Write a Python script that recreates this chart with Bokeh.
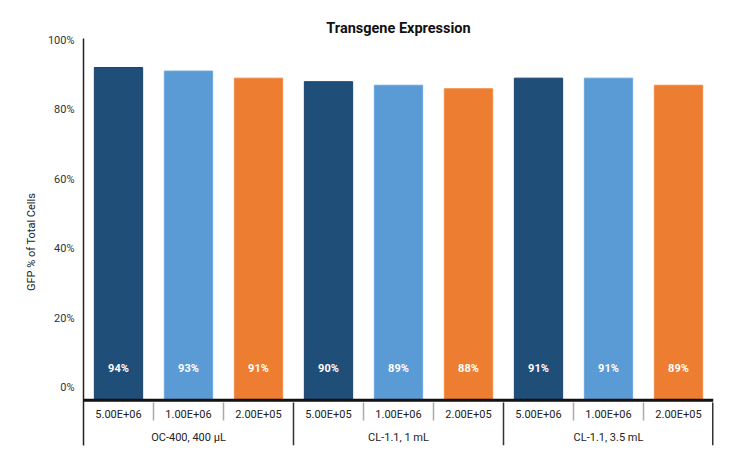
from bokeh.plotting import figure
from bokeh.models import Range1d, LinearAxis, FixedTicker, Span, ColumnDataSource
from bokeh.core.properties import value
from bokeh.embed import file_html
from bokeh.resources import INLINE

# ---- data ----
groups = ["OC-400, 400 µL", "CL-1.1, 1 mL", "CL-1.1, 3.5 mL"]
doses = ["5.00E+06", "1.00E+06", "2.00E+05",
         "5.00E+05", "1.00E+06", "2.00E+05",
         "5.00E+06", "1.00E+06", "2.00E+05"]
gfp = [94, 93, 91, 90, 89, 88, 91, 91, 89]
bar_colors = ["#1F4E79", "#5B9BD5", "#ED7D31"] * 3
line_colors = ["#1A446C", "#6AA6DC", "#F08A44"] * 3
y_ticks = [0, 20, 40, 60, 80, 100]
title_text = "Transgene Expression"
y_title = "GFP % of Total Cells"

# ---- layout ----
W, H = 730, 462
FRAME_TOP, FRAME_BOTTOM = 38, 445          # page px
Y_MIN, Y_MAX = -12.75, 102.2               # bar value range
LAB_MIN, LAB_MAX = -16.71, 100.58          # tick label range

def py(page_y):
    return Y_MAX - (page_y - FRAME_TOP) / (FRAME_BOTTOM - FRAME_TOP) * (Y_MAX - Y_MIN)

n = len(gfp)
FONT = "Roboto"

p = figure(width=W, height=H, output_backend="svg", toolbar_location=None,
           x_range=Range1d(0, n), y_range=Range1d(Y_MIN, Y_MAX),
           x_axis_location=None, y_axis_location=None,
           min_border_left=83, min_border_right=17, min_border_top=38, min_border_bottom=17,
           title=title_text)
p.extra_y_ranges = {"lab": Range1d(LAB_MIN, LAB_MAX)}
p.grid.visible = False
p.outline_line_color = None
p.background_fill_color = "white"
p.border_fill_color = "white"

p.title.align = "center"
p.title.text_font = FONT
p.title.text_font_size = "14.5px"
p.title.text_font_style = "bold"
p.title.text_color = "#111111"
p.title.standoff = 3

ax = LinearAxis(y_range_name="lab", ticker=FixedTicker(ticks=y_ticks),
                major_label_overrides={t: f"{t}%" for t in y_ticks})
ax.axis_line_color = "#222222"
ax.axis_line_width = 1.5
ax.major_tick_line_color = None
ax.minor_tick_line_color = None
ax.major_tick_out = 0
ax.major_tick_in = 0
ax.major_label_standoff = 9
ax.major_label_text_font = FONT
ax.major_label_text_font_size = "11px"
ax.major_label_text_color = "#333333"
ax.axis_label = y_title
ax.axis_label_text_font = FONT
ax.axis_label_text_font_size = "11px"
ax.axis_label_text_font_style = "normal"
ax.axis_label_text_color = "#222222"
ax.axis_label_standoff = 7
p.add_layout(ax, "left")

xs = [i + 0.5 for i in range(n)]
src = ColumnDataSource(dict(x=xs, top=gfp, color=bar_colors, lc=line_colors,
                            lab=[f"{v}%" for v in gfp], dose=doses))
p.vbar(x="x", top="top", bottom=0, width=0.69, fill_color="color", line_color="lc",
       line_width=1, source=src)

# value labels near base
p.text(x="x", y=py(368), text="lab", source=src, text_align="center", text_baseline="middle",
       text_font=value(FONT), text_font_size="11px", text_font_style="bold", text_color="white")

# bottom axis line
p.add_layout(Span(location=0, dimension="width", line_color="#111111", line_width=3))

# dose labels
p.text(x="x", y=py(414), text="dose", source=src, text_align="center", text_baseline="middle",
       text_font=value(FONT), text_font_size="11px", text_color="#222222")

# group labels
gx = [3 * g + 1.5 for g in range(len(groups))]
p.text(x=gx, y=[py(437)] * len(groups), text=groups, text_align="center", text_baseline="middle",
       text_font=value(FONT), text_font_size="11px", text_color="#222222")

# separators
minor_x = [i for i in range(1, n) if i % 3 != 0]
p.segment(x0=minor_x, x1=minor_x, y0=[py(402)] * len(minor_x), y1=[py(420)] * len(minor_x),
          line_color="#AAAAAA", line_width=1.5)
major_x = [i for i in range(3, n + 1, 3)]
p.segment(x0=major_x, x1=major_x, y0=[py(402)] * len(major_x), y1=[Y_MIN] * len(major_x),
          line_color="#333333", line_width=[1.5] * (len(major_x) - 1) + [3])

open("out.html", "w").write(file_html(p, INLINE))
